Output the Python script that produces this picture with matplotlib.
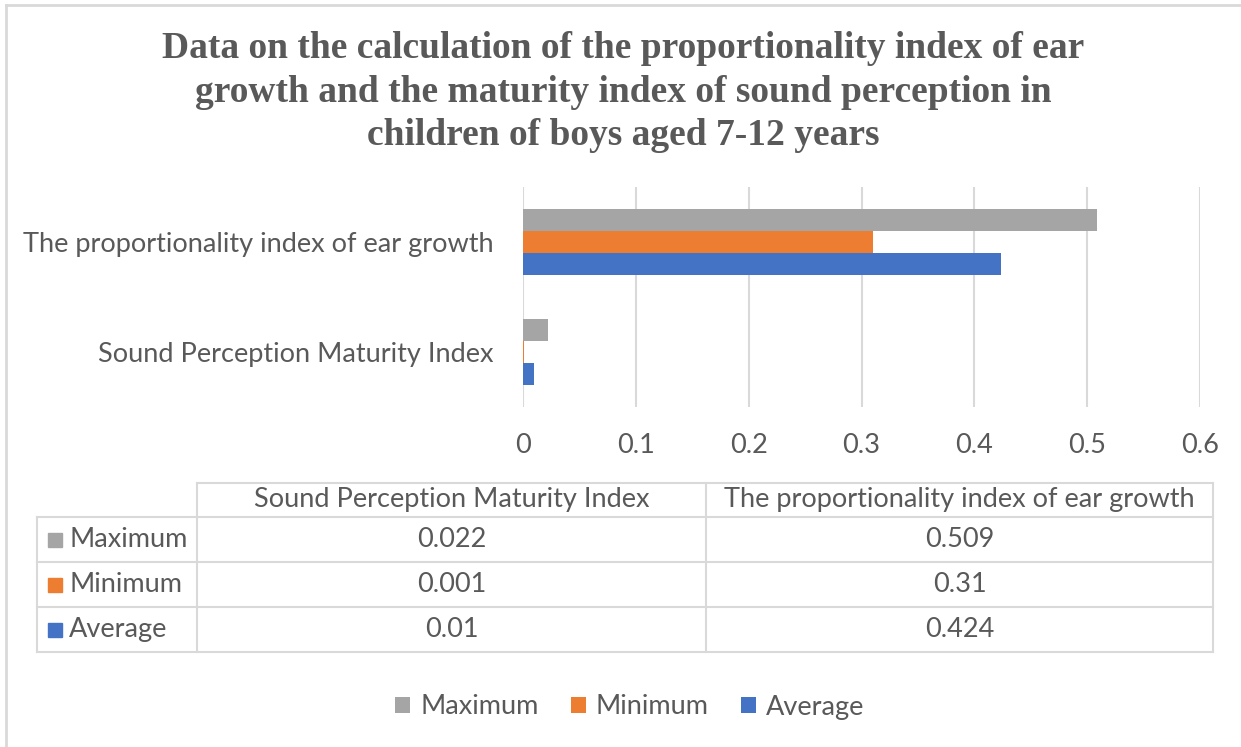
import matplotlib
matplotlib.use("Agg")
import matplotlib.pyplot as plt
from matplotlib.patches import Patch, Rectangle
from matplotlib.lines import Line2D

# Data
categories = ["Sound Perception Maturity Index", "The proportionality index of ear growth"]
series_names = ["Maximum", "Minimum", "Average"]
maximum = [0.022, 0.509]
minimum = [0.001, 0.31]
average = [0.01, 0.424]
value_labels = {
    "Maximum": ["0.022", "0.509"],
    "Minimum": ["0.001", "0.31"],
    "Average": ["0.01", "0.424"],
}
x_ticks = [0, 0.1, 0.2, 0.3, 0.4, 0.5, 0.6]
title = ("Data on the calculation of the proportionality index of ear\n"
         "growth and the maturity index of sound perception in\n"
         "children of boys aged 7-12 years")

colors = {"Maximum": "#A5A5A5", "Minimum": "#ED7D31", "Average": "#4472C4"}
values = {"Maximum": maximum, "Minimum": minimum, "Average": average}
offsets = {"Maximum": 0.2, "Minimum": 0.0, "Average": -0.2}
text_color = "#595959"
grid_color = "#D9D9D9"
body_font = "Lato"
fs = 19.5

W, H = 1241, 747
fig = plt.figure(figsize=(W / 100, H / 100), dpi=100)


def fx(px):
    return px / W


def fy(py):
    return 1 - py / H


# Chart frame edges (top and left)
frame_kw = dict(transform=fig.transFigure, color=grid_color, linewidth=2)
fig.add_artist(Line2D([fx(6), 1], [fy(5), fy(5)], **frame_kw))
fig.add_artist(Line2D([fx(6), fx(6)], [fy(5), 0], **frame_kw))

# Title
fig.text(fx(623), fy(92), title, ha="center", va="center",
         fontsize=27, fontweight="bold", family="Liberation Serif",
         color=text_color, linespacing=1.3)

# Bar chart area
ax = fig.add_axes([fx(523), fy(407), fx(1200 - 523), fy(187) - fy(407)])
ypos = list(range(len(categories)))
for name in series_names:
    ax.barh([y + offsets[name] for y in ypos], values[name], height=0.2,
            color=colors[name], zorder=3)
ax.set_xlim(0, 0.6)
ax.set_ylim(-0.5, 1.5)
ax.set_xticks(x_ticks)
ax.set_xticklabels([f"{t:g}" for t in x_ticks], fontsize=fs, family=body_font,
                   color=text_color)
ax.set_yticks(ypos)
ax.set_yticklabels(categories, fontsize=fs, family=body_font, color=text_color)
ax.tick_params(axis="y", length=0, pad=21)
ax.tick_params(axis="x", length=0, pad=19)
ax.grid(axis="x", color=grid_color, linewidth=1.5, zorder=0)
for s in ax.spines.values():
    s.set_visible(False)

# Data table under the chart
col_x = [37, 197, 706, 1213]
row_y = [483, 517, 562, 607, 652]
line_kw = dict(transform=fig.transFigure, color=grid_color, linewidth=1.5)
fig.add_artist(Line2D([fx(197), fx(1213)], [fy(row_y[0])] * 2, **line_kw))
for y in row_y[1:]:
    fig.add_artist(Line2D([fx(37), fx(1213)], [fy(y)] * 2, **line_kw))
fig.add_artist(Line2D([fx(37)] * 2, [fy(row_y[1]), fy(row_y[-1])], **line_kw))
for x in col_x[1:]:
    fig.add_artist(Line2D([fx(x)] * 2, [fy(row_y[0]), fy(row_y[-1])], **line_kw))

# header row
for i, cat in enumerate(categories):
    cx = (col_x[i + 1] + col_x[i + 2]) / 2
    fig.text(fx(cx), fy((row_y[0] + row_y[1]) / 2), cat, ha="center", va="center",
             fontsize=fs, family=body_font, color=text_color)

# body rows with legend keys
for r, name in enumerate(series_names):
    cy = (row_y[r + 1] + row_y[r + 2]) / 2
    fig.add_artist(Rectangle((fx(48), fy(cy + 7)), fx(14), fy(cy - 7) - fy(cy + 7),
                             transform=fig.transFigure, color=colors[name]))
    fig.text(fx(69), fy(cy), name, ha="left", va="center", fontsize=fs,
             family=body_font, color=text_color)
    for i in range(len(categories)):
        cx = (col_x[i + 1] + col_x[i + 2]) / 2
        fig.text(fx(cx), fy(cy), value_labels[name][i], ha="center", va="center",
                 fontsize=fs, family=body_font, color=text_color)

# Legend
handles = [Patch(facecolor=colors[n], edgecolor="none", label=n) for n in series_names]
leg = fig.legend(handles=handles, loc="center", bbox_to_anchor=(fx(630), fy(707)),
                 ncol=3, frameon=False, handlelength=0.55, handleheight=0.55,
                 handletextpad=0.37, columnspacing=1.2,
                 prop={"family": body_font, "size": fs})
for t in leg.get_texts():
    t.set_color(text_color)

fig.savefig("out.png", dpi=100)
